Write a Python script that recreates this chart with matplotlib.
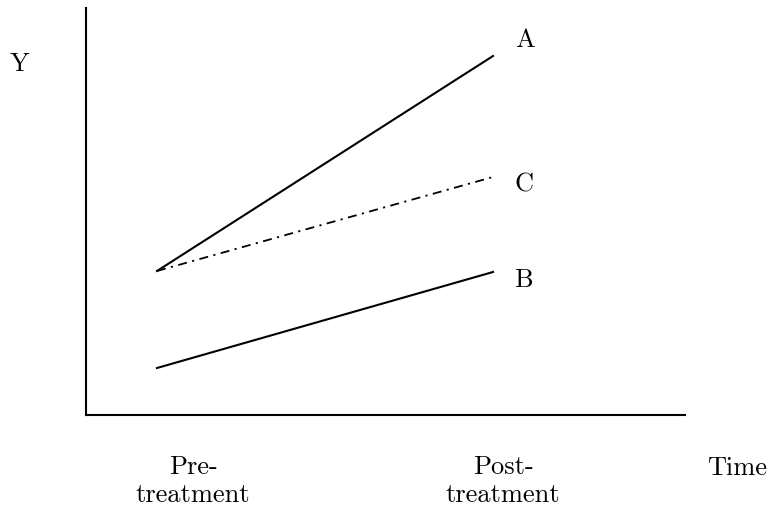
import matplotlib
matplotlib.use("Agg")
import matplotlib.pyplot as plt

# x: 0 = pre-treatment, 1 = post-treatment
times = [0, 1]
series_a = [1.44, 3.59]
series_b = [0.47, 1.43]
series_c = [1.44, 2.38]
time_labels = [("Pre-", "treatment"), ("Post-", "treatment")]

plt.rcParams['font.family'] = ['cmr10', 'DejaVu Serif']
plt.rcParams['axes.unicode_minus'] = False
fs = 19

W, H = 772, 511
fig = plt.figure(figsize=(W / 100, H / 100), dpi=100)
ax = fig.add_axes([86 / W, 1 - 415 / H, 599 / W, 407 / H])

ax.plot(times, series_a, color='black', lw=1.5)
ax.plot(times, series_b, color='black', lw=1.5)
ax.plot(times, series_c, color='black', lw=1.3, dashes=[5, 3, 1.2, 3])

ax.text(1.095, 3.68, "A", ha='center', va='baseline', fontsize=fs)
ax.text(1.092, 2.24, "C", ha='center', va='baseline', fontsize=fs)
ax.text(1.089, 1.28, "B", ha='center', va='baseline', fontsize=fs)

ax.set_xlim(-0.2113, 1.5714)
ax.set_ylim(0, 4.07)
ax.spines['top'].set_visible(False)
ax.spines['right'].set_visible(False)
ax.spines['left'].set_linewidth(1.5)
ax.spines['bottom'].set_linewidth(1.5)
ax.set_xticks([])
ax.set_yticks([])

for (l1, l2), xc in zip(time_labels, [193, 503]):
    fig.text(xc / W, 1 - 474 / H, l1, ha='center', va='baseline', fontsize=fs)
    fig.text(xc / W, 1 - 502 / H, l2, ha='center', va='baseline', fontsize=fs)
fig.text(737 / W, 1 - 475 / H, "Time", ha='center', va='baseline', fontsize=fs)
fig.text(20 / W, 1 - 71 / H, "Y", ha='center', va='baseline', fontsize=fs)

fig.savefig("out.png", dpi=100)
